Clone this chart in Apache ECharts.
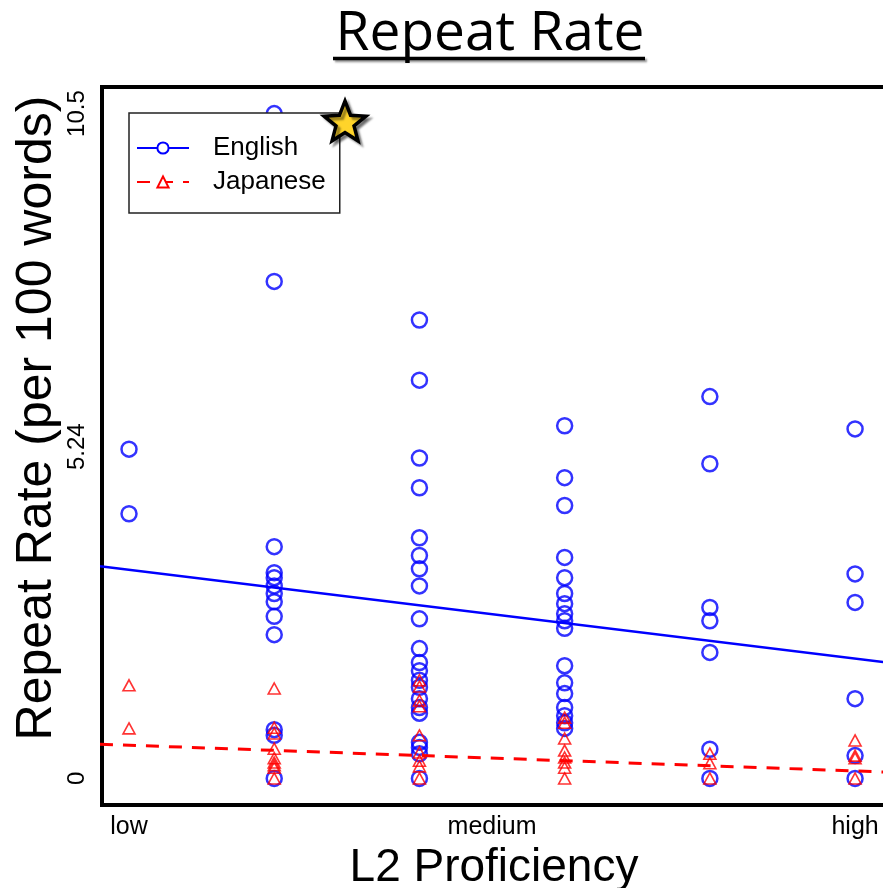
<!DOCTYPE html>
<html><head><meta charset="utf-8">
<script src="https://cdn.jsdelivr.net/npm/echarts@6/dist/echarts.min.js"></script>
<style>html,body{margin:0;padding:0;background:#fff}#c{width:883px;height:888px}</style>
</head><body><div id="c"></div>
<script>
// ---- data ----
const levels = [1, 2, 3, 4, 5, 6];
const xTickValues = [1, 3.5, 6];
const xTickLabels = ['low', 'medium', 'high'];
const yTickValues = [0, 5.24, 10.5];
const englishValues = [
  [5.20, 4.18],
  [10.5, 7.85, 3.66, 3.25, 3.17, 3.04, 2.92, 2.79, 2.56, 2.27, 0.77, 0.68, 0],
  [7.24, 6.29, 5.06, 4.59, 3.80, 3.52, 3.31, 3.04, 2.52, 2.05, 1.83, 1.70, 1.55, 1.44, 1.26, 1.12, 1.03, 0.57, 0.49, 0.39, 0],
  [5.57, 4.75, 4.31, 3.49, 3.17, 2.92, 2.76, 2.60, 2.49, 2.37, 1.78, 1.51, 1.34, 1.12, 0.99, 0.88, 0.79],
  [6.03, 4.97, 2.70, 2.49, 1.99, 0.46, 0],
  [5.52, 3.23, 2.78, 1.26, 0.36, 0]
];
const japaneseValues = [
  [1.47, 0.79],
  [1.42, 0.80, 0.71, 0.47, 0.32, 0.25, 0.21, 0.17, 0],
  [1.55, 1.45, 1.23, 1.14, 0.68, 0.41, 0.28, 0.19, 0],
  [0.96, 0.88, 0.63, 0.44, 0.33, 0.25, 0.17, 0],
  [0.39, 0.24, 0],
  [0.60, 0.36, 0.32, 0]
];
const englishFit = [[0.8, 3.35], [6.22, 1.83]];
const japaneseFit = [[0.8, 0.54], [6.22, 0.10]];

function toPoints(byLevel) {
  const out = [];
  byLevel.forEach((vals, i) => vals.forEach(v => out.push([levels[i], v])));
  return out;
}

const chart = echarts.init(document.getElementById('c'), null, {renderer: 'canvas'});

// decorative star
const starPts = [];
for (let i = 0; i < 10; i++) {
  const r = i % 2 === 0 ? 22 : 9.5;
  const a = -Math.PI / 2 + i * Math.PI / 5;
  starPts.push([345 + r * Math.cos(a), 123 + r * Math.sin(a)]);
}

const SANS = '"Liberation Sans", Arial, sans-serif';
chart.setOption({
  animation: false,
  backgroundColor: '#fff',
  grid: {show: true, left: 102, top: 87, width: 784, height: 718, outerBoundsMode: 'none', containLabel: false,
    borderColor: '#000', borderWidth: 4, backgroundColor: 'transparent'},
  legend: {
    data: ['English', 'Japanese'], orient: 'vertical', left: 129, top: 113,
    itemWidth: 52, itemHeight: 14, itemGap: 8, padding: [22, 14, 18, 7],
    borderColor: '#222', borderWidth: 1.5, backgroundColor: '#fff', borderRadius: 0,
    textStyle: {fontSize: 26, fontFamily: SANS, color: '#000', padding: [0, 0, 0, 19], lineHeight: 26}
  },
  xAxis: {
    type: 'value', min: 0.814, max: 6.213,
    axisLine: {show: false}, axisTick: {show: false}, splitLine: {show: false},
    axisLabel: {customValues: xTickValues, formatter: v => xTickLabels[xTickValues.indexOf(v)],
      fontSize: 25, fontFamily: SANS, color: '#000', margin: 10},
    name: 'L2 Proficiency', nameLocation: 'middle', nameGap: 33,
    nameTextStyle: {fontSize: 46, fontFamily: SANS, color: '#000'}
  },
  yAxis: {
    type: 'value', min: -0.42, max: 10.92,
    axisLine: {show: false}, axisTick: {show: false}, splitLine: {show: false},
    axisLabel: {customValues: yTickValues, rotate: 90, fontSize: 24, fontFamily: SANS, color: '#000', margin: 13}
  },
  graphic: [
    {type: 'text', x: 490, y: 34, style: {text: 'Repeat Rate', font: '55px "Open Sans", sans-serif',
      fill: '#000', textAlign: 'center', textVerticalAlign: 'middle',
      shadowColor: 'rgba(0,0,0,0.4)', shadowOffsetX: 2, shadowOffsetY: 2, shadowBlur: 2}},
    {type: 'line', shape: {x1: 333, y1: 58.5, x2: 645, y2: 58.5},
      style: {stroke: '#000', lineWidth: 3.5, shadowColor: 'rgba(0,0,0,0.4)', shadowOffsetX: 2, shadowOffsetY: 2, shadowBlur: 2}},
    {type: 'text', x: 37, y: 418, rotation: Math.PI / 2,
      style: {text: 'Repeat Rate (per 100 words)', font: '50px "Liberation Sans", Arial, sans-serif',
        fill: '#000', textAlign: 'center', textVerticalAlign: 'middle'}},
    {type: 'polygon', z: 100, shape: {points: starPts},
      style: {fill: '#FFD42A', stroke: '#000', lineWidth: 3.5, lineJoin: 'miter',
        shadowColor: 'rgba(0,0,0,0.4)', shadowOffsetX: 3, shadowOffsetY: 3, shadowBlur: 2}}
  ],
  series: [
    {name: 'English', type: 'line', data: englishFit, symbol: 'emptyCircle', symbolSize: 12, showSymbol: false,
      color: '#0000FF', lineStyle: {color: '#0000FF', width: 2.5}, z: 5, silent: true},
    {name: 'Japanese', type: 'line', data: japaneseFit, symbol: 'emptyTriangle', symbolSize: 13, showSymbol: false,
      color: '#FF0000', lineStyle: {color: '#FF0000', width: 3, type: [13, 10]}, z: 5, silent: true},
    {name: 'English', type: 'scatter', data: toPoints(englishValues), symbol: 'circle', symbolSize: 15,
      itemStyle: {color: 'rgba(0,0,0,0)', borderColor: '#0000FF', borderWidth: 2.5}, z: 3, silent: true},
    {name: 'Japanese', type: 'scatter', data: toPoints(japaneseValues), symbol: 'triangle', symbolSize: [12, 11],
      itemStyle: {color: 'rgba(0,0,0,0)', borderColor: '#FF0000', borderWidth: 1.6}, z: 4, silent: true}
  ]
});
</script></body></html>
